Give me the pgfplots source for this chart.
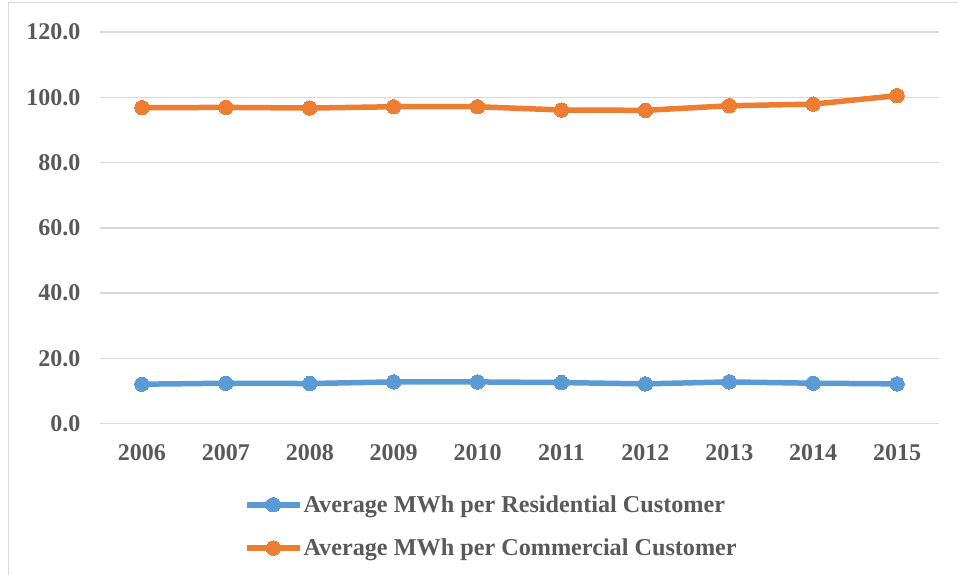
\documentclass[border=0pt]{standalone}
\usepackage{pgfplots}
\pgfplotsset{compat=1.18}
\usepackage{fontspec}
\setmainfont{Liberation Serif}
\definecolor{txt}{HTML}{595959}
\definecolor{grd}{HTML}{D9D9D9}
\definecolor{bl}{HTML}{5B9BD5}
\definecolor{org}{HTML}{ED7D31}
\begin{document}
\begin{tikzpicture}[x=1pt,y=1pt]
\useasboundingbox (0,0) rectangle (958,575);
\draw[grd,line width=1.5pt] (8.5,-5) -- (8.5,572.5) -- (965,572.5);
\begin{axis}[
  at={(100pt,151.3pt)}, anchor=south west,
  scale only axis, width=839pt, height=391.7pt,
  xmin=-0.5, xmax=9.5, ymin=0, ymax=120,
  axis line style={draw=none},
  ymajorgrids, grid style={grd,line width=1.5pt},
  ytick={0,20,...,120},
  xtick={0,...,9},
  xticklabels={2006,2007,2008,2009,2010,2011,2012,2013,2014,2015},
  major tick length=0pt,
  tick label style={font=\fontsize{24}{28}\selectfont\bfseries, text=txt},
  yticklabel style={xshift=-16pt},
  xticklabel style={yshift=-17pt},
  /pgf/number format/assume math mode=true,
  yticklabel={\pgfmathprintnumber[fixed,fixed zerofill,precision=1]{\tick}},
  legend style={at={(0.1714,-0.178)}, anchor=north west, draw=none, fill=none,
    inner sep=0pt, row sep=21pt,
    font=\fontsize{24.2}{28}\selectfont\bfseries, text=txt,
    nodes={inner xsep=1pt}},
  legend cell align=left,
  legend image code/.code={\draw[mark repeat=2,mark phase=2,#1] plot coordinates {(0pt,0pt) (26.5pt,0pt) (53pt,0pt)};},
  every axis plot/.append style={line width=5.5pt, mark=*, mark size=7.2pt, mark options={line width=0pt}},
]
\addplot[bl] coordinates {(0,12.1) (1,12.4) (2,12.3) (3,12.8) (4,12.8) (5,12.6) (6,12.2) (7,12.8) (8,12.4) (9,12.2)};
\addlegendentry{Average MWh per Residential Customer}
\addplot[org] coordinates {(0,96.8) (1,96.9) (2,96.7) (3,97.1) (4,97.1) (5,96.1) (6,96.0) (7,97.4) (8,97.9) (9,100.5)};
\addlegendentry{Average MWh per Commercial Customer}
\end{axis}
\end{tikzpicture}
\end{document}
